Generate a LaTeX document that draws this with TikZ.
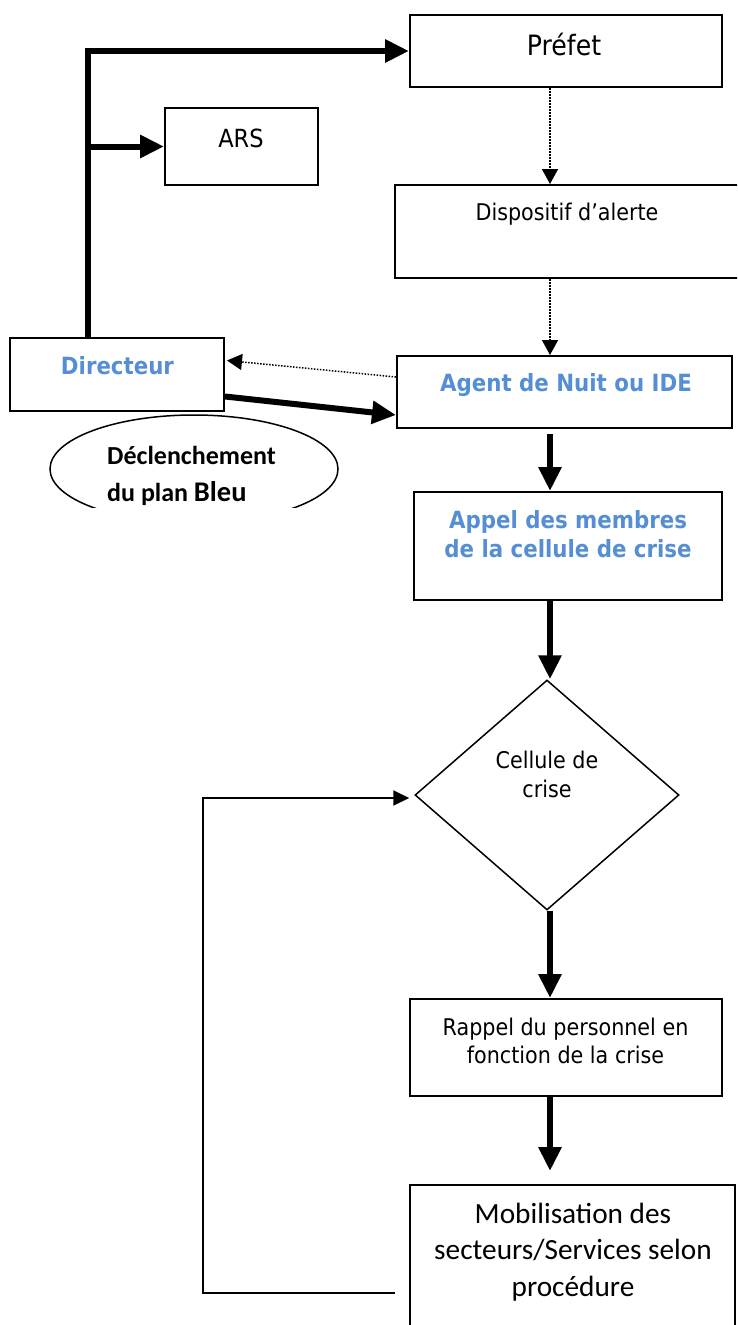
\documentclass[tikz,border=0pt]{standalone}
\usepackage{fontspec}
\newfontfamily\tahoma{DejaVu Sans}[FakeStretch=0.9]
\newfontfamily\calibri{Carlito}
\usepackage{tikz}
\usetikzlibrary{arrows.meta,shapes.geometric,calc}
\definecolor{titleblue}{HTML}{558ED5}

\begin{document}
\begin{tikzpicture}[x=1pt, y=-1pt, line join=miter,
  box/.style={rectangle, draw, line width=2pt, inner sep=0pt},
  txt/.style={inner sep=0pt, font=\tahoma\fontsize{23}{29}\selectfont},
  head/.style={txt, font=\tahoma\bfseries\fontsize{23.7}{29}\selectfont, text=titleblue},
  big/.style={-{Triangle[length=24pt,width=22pt]}, line width=6pt},
  dots/.style={-{Triangle[length=15pt,width=16pt]}, line width=1.5pt, dash pattern=on 1.5pt off 1.5pt},
  back/.style={-{Triangle[length=16pt,width=15pt]}, line width=2pt}]
  \useasboundingbox (0,0) rectangle (737,1325);
  \clip (0,0) rectangle (737,1325);
  % boxes
  \node[box, minimum width=312, minimum height=72] (prefet) at (566,51) {};
  \node[box, minimum width=153, minimum height=77] (ars) at (241.5,146.5) {};
  \node[box, minimum width=350, minimum height=93] (dispo) at (570,231.5) {};
  \node[box, minimum width=214, minimum height=73] (dir) at (117,374.5) {};
  \node[box, minimum width=335, minimum height=72] (agent) at (564.5,392) {};
  \node[box, minimum width=308, minimum height=108] (appel) at (568,546) {};
  \node[diamond, draw, line width=1.5pt, inner sep=0pt, minimum width=264, minimum height=230] (cellule) at (547,795) {};
  \node[box, minimum width=312, minimum height=97] (rappel) at (566,1047.5) {};
  \node[box, minimum width=325, minimum height=160] (mobil) at (572.5,1265) {};
  \begin{scope}
    \clip (0,0) rectangle (737,507);
    \node[ellipse, draw, line width=1.5pt, minimum width=288, minimum height=108] (plan) at (194,469) {};
  \end{scope}
  % texts
  \node[txt, font=\tahoma\fontsize{28}{34}\selectfont, anchor=base] (prefet-t) at (564,55) {Préfet};
  \node[txt, font=\tahoma\fontsize{25}{30}\selectfont, anchor=base] (ars-t) at (241,147) {ARS};
  \node[txt, anchor=base] (dispo-t) at (567,220) {Dispositif d’alerte};
  \node[head, anchor=base] (dir-t) at (117.5,374) {Directeur};
  \node[head, anchor=base] (agent-t) at (566,391) {Agent de Nuit ou IDE};
  \node[head, align=center, anchor=north] (appel-t) at (568,510) {Appel des membres\\de la cellule de crise};
  \node[txt, align=center, anchor=north] (cellule-t) at (547,750.5) {Cellule de\\crise};
  \node[txt, font=\tahoma\fontsize{23}{28}\selectfont, align=center, anchor=north] (rappel-t) at (565.5,1017.5) {Rappel du personnel en\\fonction de la crise};
  \node[txt, font=\calibri\fontsize{29.3}{36.5}\selectfont, align=center, anchor=north] (mobil-t) at (573,1202.5) {Mobilisation des\\secteurs/Services selon\\procédure};
  \node[txt, font=\calibri\bfseries\fontsize{26}{37}\selectfont, align=left, anchor=north west] (plan-t) at (107,446) {Déclenchement\\du plan {\fontsize{28.5}{37}\selectfont Bleu}};
  % connectors
  \coordinate (trunk) at (88,50);
  \coordinate (spine) at (550,0);
  \coordinate (loopend) at (395,1293);
  \draw[big] (dir.north -| trunk) |- (prefet.west);
  \draw[big] (ars.west -| trunk) -- (ars.west);
  \draw[dots] (prefet.south -| spine) -- (dispo.north -| spine);
  \draw[dots] (dispo.south -| spine) -- (agent.north -| spine);
  \draw[dots] ($(agent.west)+(0,-15)$) -- ($(dir.east)+(2,-14)$);
  \draw[big] ($(dir.east)+(0,22)$) -- ($(agent.west)+(0,23)$);
  \draw[big, shorten <=5pt] (agent.south -| spine) -- (appel.north -| spine);
  \draw[big] (appel.south -| spine) -- (cellule.north -| spine);
  \draw[big] (cellule.south -| spine) -- (rappel.north -| spine);
  \draw[big, shorten >=13pt] (rappel.south -| spine) -- (mobil.north -| spine);
  \draw[back, shorten >=5pt] (loopend) -| (203,798) -- (cellule.west |- 0,798);
\end{tikzpicture}
\end{document}
